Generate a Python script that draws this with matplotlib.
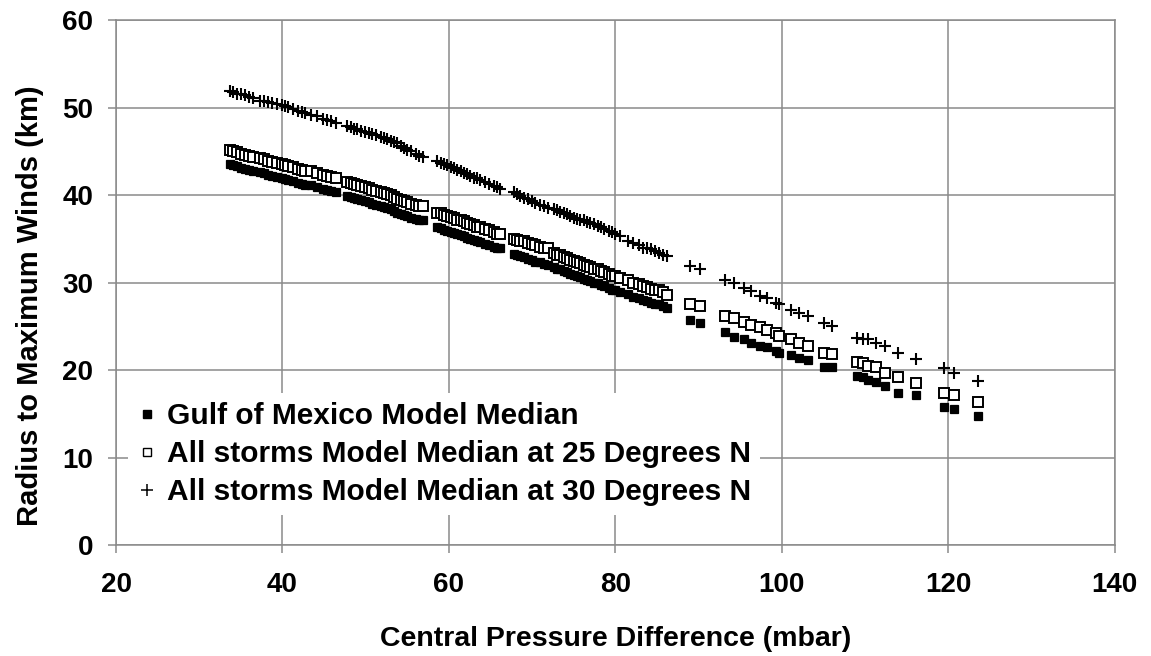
import matplotlib
matplotlib.use("Agg")
import matplotlib.pyplot as plt
from matplotlib.lines import Line2D

# Central pressure difference (mbar) shared by the three model series
pressure_diff = [
    33.7, 34.1, 34.5, 35.0, 35.5, 36.0, 36.5, 37.3, 37.8, 38.3, 38.8, 39.3, 39.9,
    40.3, 40.7, 41.3, 41.9, 42.3, 42.7, 43.4, 44.1, 44.9, 45.4, 45.8, 46.4,
    47.8, 48.2, 48.6, 49.0, 49.4, 49.9, 50.4, 50.8, 51.2, 51.8, 52.2, 52.6, 53.0,
    53.4, 53.8, 54.2, 54.6, 55.0, 55.5, 56.0, 56.4, 56.9,
    58.6, 59.0, 59.4, 59.8, 60.2, 60.6, 61.0, 61.4, 61.8, 62.2, 62.6, 63.0, 63.4,
    63.8, 64.3, 64.8, 65.4, 65.8, 66.2,
    67.8, 68.2, 68.6, 69.0, 69.5, 70.0, 70.4, 70.9, 71.4, 71.9,
    72.6, 73.0, 73.4, 73.8, 74.2, 74.6, 75.0, 75.4, 75.8, 76.2, 76.6, 77.0, 77.4,
    77.9, 78.3, 78.6, 79.2, 79.6, 80.0, 80.6,
    81.5, 82.1, 82.8, 83.3, 83.8, 84.3, 84.8, 85.2, 85.7, 86.2,
    89.0, 90.2, 93.2, 94.3, 95.5, 96.3, 97.4, 98.2, 99.3, 99.7, 101.1, 102.1,
    103.2, 105.1, 106.0, 109.0, 109.8, 110.4, 111.3, 112.4, 114.0, 116.1, 119.5,
    120.7, 123.6,
]

# Radius to maximum winds (km)
gulf_median = [
    43.5, 43.4, 43.3, 43.1, 43.0, 42.9, 42.8, 42.6, 42.5, 42.3, 42.2, 42.1, 41.9,
    41.8, 41.7, 41.6, 41.4, 41.3, 41.2, 41.1, 40.9, 40.7, 40.6, 40.5, 40.3,
    39.9, 39.8, 39.7, 39.6, 39.4, 39.3, 39.2, 39.0, 38.9, 38.7, 38.6, 38.5, 38.4,
    38.2, 38.0, 37.8, 37.7, 37.6, 37.4, 37.3, 37.2, 37.1,
    36.3, 36.2, 36.0, 35.9, 35.8, 35.7, 35.5, 35.4, 35.3, 35.1, 35.0, 34.9, 34.7,
    34.6, 34.4, 34.3, 34.1, 34.0, 33.9,
    33.3, 33.2, 33.0, 32.9, 32.7, 32.6, 32.4, 32.3, 32.1, 32.0,
    31.8, 31.6, 31.5, 31.3, 31.2, 31.0, 30.9, 30.7, 30.6, 30.4, 30.3, 30.2, 30.0,
    29.9, 29.7, 29.6, 29.4, 29.2, 29.1, 28.9,
    28.7, 28.4, 28.2, 28.0, 27.9, 27.7, 27.6, 27.5, 27.3, 27.1,
    25.7, 25.4, 24.3, 23.8, 23.5, 23.1, 22.8, 22.6, 22.2, 22.0, 21.7, 21.4,
    21.1, 20.4, 20.3, 19.3, 19.2, 18.9, 18.6, 18.2, 17.4, 17.1, 15.8,
    15.5, 14.8,
]

all_storms_25n = [
    45.1, 45.0, 44.9, 44.7, 44.6, 44.5, 44.4, 44.2, 44.1, 43.9, 43.8, 43.7, 43.5,
    43.4, 43.3, 43.2, 43.0, 42.9, 42.8, 42.7, 42.5, 42.3, 42.2, 42.1, 41.9,
    41.5, 41.4, 41.3, 41.2, 41.0, 40.9, 40.8, 40.6, 40.5, 40.3, 40.2, 40.1, 40.0,
    39.8, 39.6, 39.4, 39.3, 39.2, 39.0, 38.9, 38.8, 38.7,
    38.0, 37.9, 37.7, 37.6, 37.5, 37.4, 37.2, 37.1, 37.0, 36.8, 36.7, 36.6, 36.4,
    36.3, 36.1, 36.0, 35.8, 35.6, 35.5,
    35.0, 34.9, 34.8, 34.7, 34.5, 34.4, 34.3, 34.1, 34.0, 33.9,
    33.4, 33.2, 33.1, 32.9, 32.8, 32.6, 32.5, 32.3, 32.2, 32.0, 31.9, 31.8, 31.6,
    31.5, 31.3, 31.2, 31.0, 30.8, 30.7, 30.5,
    30.3, 30.0, 29.8, 29.6, 29.5, 29.3, 29.2, 29.1, 28.9, 28.6,
    27.6, 27.3, 26.2, 25.9, 25.5, 25.2, 24.9, 24.6, 24.2, 23.9, 23.5, 23.1,
    22.7, 22.0, 21.8, 20.9, 20.8, 20.5, 20.3, 19.7, 19.2, 18.5, 17.4,
    17.2, 16.3,
]

all_storms_30n = [
    51.9, 51.8, 51.6, 51.5, 51.4, 51.2, 51.1, 50.8, 50.7, 50.6, 50.5, 50.4, 50.3,
    50.2, 50.1, 49.8, 49.6, 49.5, 49.4, 49.2, 49.0, 48.7, 48.6, 48.5, 48.2,
    47.9, 47.8, 47.6, 47.5, 47.3, 47.2, 47.1, 47.0, 46.9, 46.6, 46.5, 46.4, 46.2,
    46.1, 45.9, 45.6, 45.4, 45.2, 45.0, 44.7, 44.5, 44.3,
    43.9, 43.7, 43.6, 43.4, 43.2, 43.1, 42.9, 42.7, 42.5, 42.4, 42.2, 42.0, 41.9,
    41.7, 41.5, 41.3, 41.0, 40.9, 40.7,
    40.3, 40.1, 39.9, 39.7, 39.5, 39.3, 39.1, 38.9, 38.7, 38.5,
    38.4, 38.3, 38.1, 37.9, 37.8, 37.6, 37.4, 37.3, 37.2, 37.1, 36.9, 36.8, 36.7,
    36.5, 36.3, 36.1, 35.9, 35.8, 35.6, 35.3,
    34.8, 34.5, 34.3, 34.0, 33.9, 33.8, 33.6, 33.4, 33.2, 33.0,
    31.9, 31.5, 30.3, 29.9, 29.4, 29.0, 28.5, 28.2, 27.7, 27.6, 26.9, 26.5,
    26.2, 25.4, 25.0, 23.7, 23.6, 23.5, 23.1, 22.7, 21.9, 21.3, 20.2,
    19.7, 18.8,
]

series_labels = [
    "Gulf of Mexico Model Median",
    "All storms Model Median at 25 Degrees N",
    "All storms Model Median at 30 Degrees N",
]
x_ticks = [20, 40, 60, 80, 100, 120, 140]
y_ticks = [0, 10, 20, 30, 40, 50, 60]
x_title = "Central Pressure Difference (mbar)"
y_title = "Radius to Maximum Winds (km)"

plt.rcParams["font.family"] = ["Liberation Sans", "DejaVu Sans"]
plt.rcParams["font.weight"] = "bold"

grid_gray = "#8a8a8a"

fig = plt.figure(figsize=(11.51, 6.56), dpi=100)
ax = fig.add_axes([0.1008, 0.1692, 0.8675, 0.8003])

ax.plot(pressure_diff, gulf_median, ls="none", marker="s", ms=6.4,
        mfc="black", mec="black", mew=0.9, zorder=3)
ax.plot(pressure_diff, all_storms_25n, ls="none", marker="s", ms=6.8,
        mfc="white", mec="black", mew=1.4, zorder=4)
ax.plot(pressure_diff, all_storms_30n, ls="none", marker="+", ms=8,
        mew=1.5, color="black", zorder=5)

ax.set_xlim(20, 140)
ax.set_ylim(0, 60)
ax.set_xticks(x_ticks)
ax.set_yticks(y_ticks)
ax.grid(True, color=grid_gray, lw=1.1, zorder=1)
ax.set_axisbelow(True)
for side in ax.spines.values():
    side.set_color(grid_gray)
    side.set_linewidth(1.1)

ax.tick_params(axis="both", direction="out", length=6, width=1.1,
               color=grid_gray, labelsize=20)
ax.tick_params(axis="x", pad=13.5)
ax.tick_params(axis="y", pad=10.5)
for lbl in ax.get_xticklabels() + ax.get_yticklabels():
    lbl.set_fontweight("bold")

ax.set_xlabel(x_title, fontsize=20.5, fontweight="bold", labelpad=20)
ax.set_ylabel(y_title, fontsize=21, fontweight="bold")
ax.yaxis.set_label_coords(-0.072, 0.455)

handles = [
    Line2D([], [], ls="none", marker="s", ms=6, mfc="black", mec="black"),
    Line2D([], [], ls="none", marker="s", ms=6, mfc="white", mec="black", mew=1.0),
    Line2D([], [], ls="none", marker="+", ms=8, mew=1.1, color="black"),
]
leg = ax.legend(handles, series_labels, loc="lower left",
                bbox_to_anchor=(0.012, 0.057), frameon=True, fancybox=False,
                framealpha=1.0, facecolor="white", edgecolor="none",
                prop={"size": 21.5, "weight": "bold"},
                handlelength=0.7, handletextpad=0.3, labelspacing=0.33,
                borderpad=0.3, borderaxespad=0.0)
leg.set_zorder(6)

fig.savefig("out.png", dpi=100)
